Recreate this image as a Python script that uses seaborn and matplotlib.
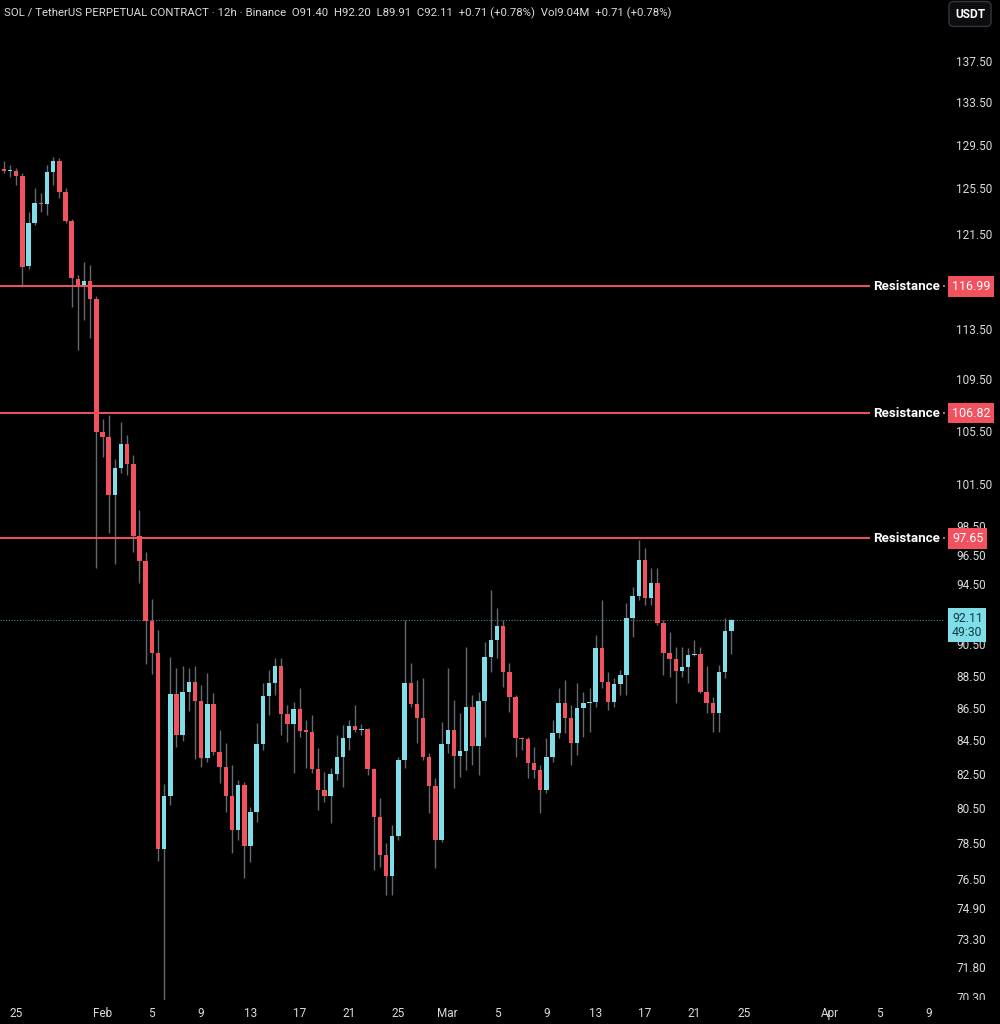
import pandas as pd
import matplotlib
matplotlib.use("Agg")
import matplotlib.pyplot as plt
import matplotlib.dates as mdates
import seaborn as sns
from matplotlib.transforms import Bbox, TransformedBbox

# === Data: SOL / TetherUS perpetual, 12h candles from 24 Jan ===
start = "2026-01-24 00:00"
opens = [127.27, 127.06, 127.10, 126.63, 118.70, 122.41, 124.18, 124.10, 127.03, 128.03,
         125.21, 122.61, 117.61, 116.92, 117.44, 115.93, 105.42, 105.04, 100.77, 102.72,
         104.51, 102.98, 97.83, 96.06, 92.05, 89.92, 78.18, 81.21, 87.34, 84.81,
         87.47, 88.12, 86.91, 83.42, 86.73, 83.78, 82.91, 81.19, 79.23, 81.83,
         78.34, 80.28, 84.27, 87.23, 88.02, 89.12, 86.09, 85.48, 86.40, 85.06,
         85.02, 82.79, 81.54, 81.19, 82.46, 83.51, 84.62, 85.34, 85.13, 85.18,
         82.78, 79.96, 77.83, 76.68, 78.89, 83.31, 88.02, 86.73, 85.84, 83.51,
         81.79, 78.66, 84.27, 85.13, 83.55, 83.87, 86.56, 84.15, 86.93, 89.72,
         90.80, 91.73, 88.76, 87.18, 84.62, 84.55, 83.15, 82.72, 81.54, 83.51,
         84.92, 86.77, 85.84, 84.33, 86.49, 86.77, 86.82, 90.26, 88.12, 86.87,
         87.98, 88.54, 92.26, 93.71, 96.15, 93.55, 94.60, 91.93, 89.98, 89.57,
         88.82, 89.08, 89.81, 89.87, 87.50, 86.77, 86.15, 88.72, 91.40]
highs = [128.00, 127.64, 127.36, 126.91, 123.44, 125.51, 125.09, 127.64, 128.34, 128.28,
         125.54, 122.80, 117.95, 119.09, 118.81, 116.20, 106.35, 106.70, 103.39, 106.12,
         105.14, 103.69, 99.67, 96.67, 93.52, 91.47, 81.89, 89.72, 88.97, 89.12,
         88.97, 89.09, 87.92, 88.66, 87.42, 85.13, 84.33, 83.01, 82.13, 82.03,
         80.56, 85.57, 88.02, 88.86, 89.63, 89.63, 86.66, 86.87, 87.71, 85.74,
         86.05, 84.01, 82.61, 82.82, 84.82, 85.43, 85.74, 86.66, 85.50, 85.22,
         82.82, 81.06, 78.48, 79.52, 83.51, 92.11, 89.30, 88.23, 88.34, 83.72,
         82.23, 85.63, 88.97, 86.98, 86.15, 90.36, 87.29, 87.50, 90.68, 94.11,
         92.88, 92.11, 89.30, 87.29, 84.71, 84.71, 84.11, 83.01, 84.62, 85.74,
         87.71, 88.23, 86.66, 88.04, 87.50, 87.71, 91.12, 93.44, 88.76, 88.34,
         88.86, 93.22, 94.33, 97.54, 96.96, 95.58, 95.58, 92.11, 91.34, 90.36,
         90.36, 90.26, 90.80, 90.36, 89.12, 87.18, 89.18, 92.22, 92.20]
lows = [126.91, 126.57, 125.81, 116.97, 118.44, 122.26, 123.44, 123.15, 125.81, 124.62,
        122.44, 115.31, 111.79, 114.21, 112.72, 95.61, 103.54, 98.03, 95.88, 102.35,
        102.21, 96.70, 94.58, 89.25, 88.61, 77.50, 70.00, 80.66, 84.07, 84.45,
        86.30, 83.37, 82.91, 83.21, 83.61, 81.95, 80.28, 77.94, 78.66, 76.53,
        77.45, 79.71, 83.91, 86.05, 87.29, 84.82, 84.41, 82.52, 84.71, 82.83,
        82.52, 80.37, 80.86, 79.62, 82.13, 81.73, 83.91, 85.02, 84.82, 82.42,
        76.99, 77.18, 75.63, 75.63, 78.66, 82.82, 86.56, 84.31, 83.31, 80.19,
        77.09, 78.57, 83.73, 81.64, 82.32, 82.72, 83.01, 82.42, 84.71, 88.76,
        89.61, 87.81, 86.25, 83.51, 83.91, 82.23, 82.23, 80.19, 81.35, 83.21,
        84.62, 84.92, 83.01, 83.61, 84.71, 85.00, 86.56, 87.71, 86.35, 86.56,
        87.29, 87.29, 91.01, 93.44, 93.10, 93.10, 91.78, 88.54, 88.44, 86.77,
        88.44, 88.02, 89.75, 87.40, 86.15, 85.02, 85.02, 88.34, 89.91]
closes = [127.06, 127.10, 126.63, 118.66, 122.41, 124.18, 124.15, 127.03, 128.03, 125.21,
          122.61, 117.67, 116.92, 117.47, 115.93, 105.42, 105.04, 100.77, 102.72, 104.51,
          102.98, 97.83, 96.06, 92.05, 89.92, 78.18, 81.21, 87.34, 84.81, 87.47,
          88.12, 86.91, 83.42, 86.73, 83.78, 82.91, 81.19, 79.23, 81.83, 78.34,
          80.28, 84.27, 87.23, 88.02, 89.12, 86.09, 85.48, 86.40, 85.06, 85.02,
          82.79, 81.54, 81.19, 82.46, 83.51, 84.62, 85.34, 85.13, 85.18, 82.78,
          79.96, 77.83, 76.68, 78.89, 83.31, 88.02, 86.73, 85.84, 83.51, 81.79,
          78.66, 84.27, 85.13, 83.55, 83.87, 86.56, 84.15, 86.93, 89.72, 90.80,
          91.73, 88.76, 87.18, 84.62, 84.55, 83.15, 82.72, 81.54, 83.51, 84.92,
          86.77, 85.84, 84.33, 86.49, 86.77, 86.82, 90.26, 88.12, 86.87, 87.98,
          88.54, 92.26, 93.71, 96.15, 93.55, 94.60, 91.93, 89.98, 89.57, 88.82,
          89.08, 89.81, 89.87, 87.50, 86.77, 86.15, 88.72, 91.40, 92.11]

resistance_levels = [116.99, 106.82, 97.65]
last_price = 92.11
countdown = "49:30"

price_ticks = [137.5, 133.5, 129.5, 125.5, 121.5, 117.5, 113.5, 109.5, 105.5, 101.5,
               98.5, 96.5, 94.5, 92.5, 90.5, 88.5, 86.5, 84.5, 82.5, 80.5,
               78.5, 76.5, 74.9, 73.3, 71.8, 70.3]
date_ticks = ["2026-01-25", "2026-02-01", "2026-02-05", "2026-02-09", "2026-02-13",
              "2026-02-17", "2026-02-21", "2026-02-25", "2026-03-01", "2026-03-05",
              "2026-03-09", "2026-03-13", "2026-03-17", "2026-03-21", "2026-03-25",
              "2026-04-01", "2026-04-05", "2026-04-09"]
date_labels = ["25", "Feb", "5", "9", "13", "17", "21", "25", "Mar", "5",
               "9", "13", "17", "21", "25", "Apr", "5", "9"]

header = ("SOL / TetherUS PERPETUAL CONTRACT \u00b7 12h \u00b7 Binance  O91.40  H92.20  "
          "L89.91  C92.11  +0.71 (+0.78%)  Vol9.04M  +0.71 (+0.78%)")

df = pd.DataFrame({"open": opens, "high": highs, "low": lows, "close": closes})
df["time"] = pd.date_range(start, periods=len(df), freq="12h")
df["x"] = mdates.date2num(df["time"])
df["up"] = df["close"] >= df["open"]

# === Style ===
UP = "#80dee9"
DOWN = "#f2525f"
WICK = "#65686f"
TEXT = "#d9dbe0"
BG = "#000000"

sns.set_theme(style="dark", rc={"axes.facecolor": BG, "figure.facecolor": BG,
                                "axes.edgecolor": BG, "axes.grid": False})
plt.rcParams["font.family"] = ["Roboto", "DejaVu Sans"]

fig = plt.figure(figsize=(10, 10.24), dpi=100)
ax = fig.add_axes([0, 24 / 1024, 945 / 1000, 1000 / 1024])
ax.set_facecolor(BG)

# === Candles ===
ax.vlines(df["x"], df["low"], df["high"], color=WICK, linewidth=1, zorder=2)
body_bottom = df[["open", "close"]].min(axis=1)
body_height = (df["close"] - df["open"]).abs().clip(lower=0.07)
ax.bar(df["x"], body_height, bottom=body_bottom, width=0.36,
       color=[UP if u else DOWN for u in df["up"]], linewidth=0, zorder=3)

# === Scales ===
ax.set_yscale("log")
ax.set_ylim(70.14, 143.65)
ax.set_xlim(mdates.date2num(pd.Timestamp("2026-01-23 16:28")),
            mdates.date2num(pd.Timestamp("2026-04-10 08:00")))

ax.yaxis.tick_right()
ax.set_yticks(price_ticks)
ax.set_yticklabels([f"{t:.2f}" for t in price_ticks])
ax.yaxis.set_minor_locator(matplotlib.ticker.NullLocator())
ax.tick_params(axis="y", length=0, pad=8, labelsize=8.5, labelcolor=TEXT)
clip = TransformedBbox(Bbox([[0, 0], [1.2, 1]]), ax.transAxes)
for lab in ax.get_yticklabels():
    lab.set_clip_box(clip)
    lab.set_clip_on(True)

ax.set_xticks(mdates.date2num(pd.to_datetime(date_ticks)))
ax.set_xticklabels(date_labels)
ax.tick_params(axis="x", length=0, pad=5, labelsize=8.5, labelcolor=TEXT)
for s in ax.spines.values():
    s.set_visible(False)

# === Resistance lines and labels ===
ytrans = ax.get_yaxis_transform()
for lvl in resistance_levels:
    ax.axhline(lvl, color=DOWN, linewidth=1.4, zorder=4)
    ax.text(0.9947, lvl, "Resistance", transform=ytrans, ha="right", va="center",
            fontsize=9.6, fontweight="bold", color="white", zorder=5,
            bbox=dict(boxstyle="square,pad=0.2", facecolor=BG, edgecolor="none"))
    ax.annotate(f"{lvl:.2f}", xy=(1.0, lvl), xycoords=ytrans, xytext=(5, 0),
                textcoords="offset points", ha="left", va="center", fontsize=9,
                color="white", zorder=6, annotation_clip=False,
                bbox=dict(boxstyle="square,pad=0.3", facecolor=DOWN, edgecolor="none"))

# === Last price line and label ===
ax.axhline(last_price, color="#4f7f8c", linewidth=0.8, linestyle=(0, (1, 1.5)), zorder=1)
ax.annotate(f"{last_price:.2f}\n{countdown}", xy=(1.0, last_price), xycoords=ytrans,
            xytext=(5, 6), textcoords="offset points", ha="left", va="top",
            fontsize=8.8, color="#0f3b45", zorder=6, annotation_clip=False,
            linespacing=1.1,
            bbox=dict(boxstyle="square,pad=0.3", facecolor=UP, edgecolor="none"))

# === Header and currency badge ===
fig.text(0.004, 1 - 13 / 1024, header, ha="left", va="center", fontsize=8.2, color=TEXT)
fig.text(0.970, 1 - 14 / 1024, "USDT", ha="center", va="center", fontsize=8.6,
         fontweight="bold", color="white",
         bbox=dict(boxstyle="round,pad=0.5,rounding_size=0.4", facecolor="#0d0d0f",
                   edgecolor="#33363d", linewidth=1))

fig.savefig("out.png", dpi=100, facecolor=BG)
